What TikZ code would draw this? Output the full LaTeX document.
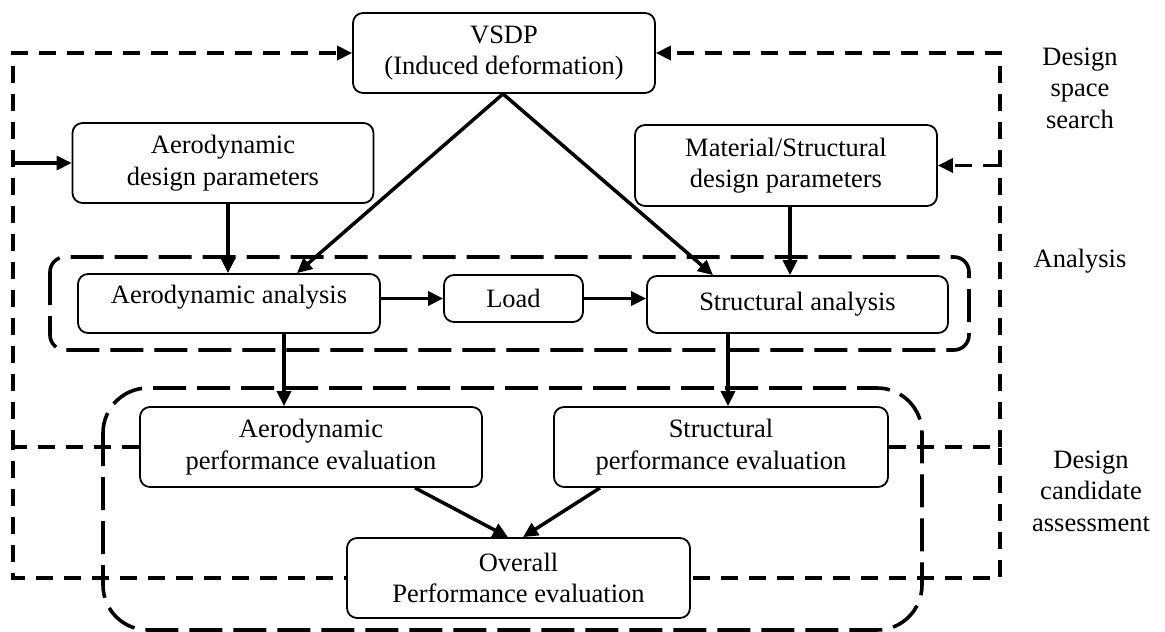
\documentclass[tikz,border=0pt]{standalone}
\usepackage{fontspec}
\setmainfont{Liberation Serif}
\usetikzlibrary{arrows.meta,calc}
\begin{document}
\begin{tikzpicture}[x=1pt,y=-1pt,
  txt/.style={font=\fontsize{26.5}{31.5}\selectfont},
  box/.style={txt,draw,line width=1.8pt,rounded corners=10pt,align=center,inner sep=2pt},
  tip/.style={-{Triangle[length=15pt,width=14pt]}},
  arr/.style={line width=3.5pt,tip},
  loopline/.style={line width=3.5pt,dash pattern=on 17pt off 11pt},
  grp/.style={line width=3.6pt,dash pattern=on 33pt off 11pt},
  lbl/.style={txt,align=center}]
\useasboundingbox (0,0) rectangle (1165,632);

% group frames
\draw[grp,rounded corners=15pt] (50,257) rectangle (969,350);
\draw[grp,rounded corners=45pt] (103,388) rectangle (922,630);

% nodes
\node[box,minimum width=302pt,minimum height=80pt] (vsdp) at (504,53) {VSDP\\(Induced deformation)};
\node[box,minimum width=301pt,minimum height=80pt] (adp) at (223,163) {Aerodynamic\\design parameters};
\node[box,minimum width=302pt,minimum height=81pt] (mdp) at (786,165.5) {Material/Structural\\design parameters};
\node[box,minimum width=302pt,minimum height=59pt,text height=18pt,text depth=18pt] (aa) at (229,303.5) {Aerodynamic analysis};
\node[box,minimum width=139pt,minimum height=47pt] (load) at (513.5,298.5) {Load};
\node[box,minimum width=301pt,minimum height=57pt] (sa) at (797.5,304.5) {Structural analysis};
\node[box,minimum width=342pt,minimum height=80pt] (ape) at (311,447) {Aerodynamic\\performance evaluation};
\node[box,minimum width=334pt,minimum height=80pt] (spe) at (721,447) {Structural\\performance evaluation};
\node[box,minimum width=343pt,minimum height=80pt] (ope) at (518.5,578) {Overall\\Performance evaluation};

% side labels
\node[lbl] (l1) at (1080,88) {Design\\space\\search};
\node[lbl] (l2) at (1080,261) {Analysis};
\node[lbl] (l3) at (1091,491) {Design\\candidate\\assessment};

% solid arrows
\draw[arr] ([xshift=5pt]adp.south) -- ([xshift=5pt]adp.south |- aa.north);
\draw[arr] ([xshift=-1pt]vsdp.south) -- ([xshift=68pt]aa.north);
\draw[arr] ([xshift=-1pt]vsdp.south) -- ([xshift=-84.5pt]sa.north);
\draw[arr] ([xshift=4pt]mdp.south) -- ([xshift=4pt]mdp.south |- sa.north);
\draw[arr] (aa.east |- load.west) -- (load.west);
\draw[arr] (load.east) -- (load.east -| sa.west);
\draw[arr] ([xshift=55pt]aa.south) -- ([xshift=55pt]aa.south |- ape.north);
\draw[arr] ([xshift=-69.5pt]sa.south) -- ([xshift=-69.5pt]sa.south |- spe.north);
\draw[arr] ([xshift=104pt]ape.south) -- ([xshift=-10.5pt]ope.north);
\draw[arr] ([xshift=-121pt]spe.south) -- ([xshift=4.5pt]ope.north);

% feedback loops
\coordinate (lx) at (13,0);
\coordinate (rx) at (1000,0);
\draw[loopline] (ape.west) -- (ape.west -| lx) -- (ope.west -| lx) -- (ope.west);
\draw[loopline,tip] (ape.west -| lx) -- (vsdp.west -| lx) -- (vsdp.west);
\draw[arr] (adp.west -| lx) -- (adp.west);
\draw[loopline] (spe.east) -- (spe.east -| rx) -- (ope.east -| rx) -- (ope.east);
\draw[loopline,tip] (spe.east -| rx) -- (vsdp.east -| rx) -- (vsdp.east);
\draw[loopline,tip] (mdp.east -| rx) -- (mdp.east);
\end{tikzpicture}
\end{document}
